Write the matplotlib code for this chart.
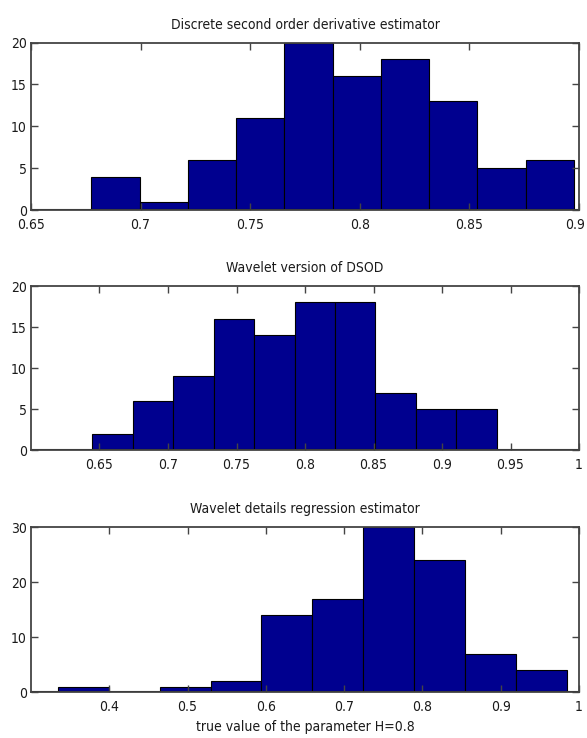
import numpy as np
import matplotlib
matplotlib.use("Agg")
import matplotlib.pyplot as plt
from matplotlib.transforms import ScaledTranslation

# narrow, MATLAB-like lettering
plt.rcParams['font.family'] = ['DejaVu Sans']
plt.rcParams['font.stretch'] = 'condensed'

# histogram counts (100 estimates each)
titles = ["Discrete second order derivative estimator",
          "Wavelet version of DSOD",
          "Wavelet details regression estimator"]

counts_dsod = [4, 1, 6, 11, 20, 16, 18, 13, 5, 6]
range_dsod = (0.6776, 0.8976)

counts_wdsod = [2, 6, 9, 16, 14, 18, 18, 7, 5, 5]
range_wdsod = (0.6448, 0.9399)

counts_wdr = [1, 0, 1, 2, 14, 17, 30, 24, 7, 4]
range_wdr = (0.334, 0.985)

xlims = [(0.65, 0.9), (0.6, 1.0), (0.3, 1.0)]
xticks = [[0.65, 0.7, 0.75, 0.8, 0.85, 0.9],
          [0.65, 0.7, 0.75, 0.8, 0.85, 0.9, 0.95, 1],
          [0.4, 0.5, 0.6, 0.7, 0.8, 0.9, 1]]
xticklabels = [["0.65", "0.7", "0.75", "0.8", "0.85", "0.9"],
               ["0.65", "0.7", "0.75", "0.8", "0.85", "0.9", "0.95", "1"],
               ["0.4", "0.5", "0.6", "0.7", "0.8", "0.9", "1"]]
ylims = [20, 20, 30]
yticks = [[0, 5, 10, 15, 20], [0, 5, 10, 15, 20], [0, 10, 20, 30]]

all_counts = [counts_dsod, counts_wdsod, counts_wdr]
all_ranges = [range_dsod, range_wdsod, range_wdr]

navy = (0, 0, 0.5625)
label_col = "#1a1a1a"

fig = plt.figure(figsize=(5.87, 7.38), dpi=100)
boxes = [[0.0528, 0.7154, 0.9336, 0.2270],
         [0.0528, 0.3902, 0.9336, 0.2222],
         [0.0528, 0.0623, 0.9336, 0.2236]]

for i in range(3):
    ax = fig.add_axes(boxes[i])
    edges = np.linspace(all_ranges[i][0], all_ranges[i][1], len(all_counts[i]) + 1)
    ax.bar(edges[:-1], all_counts[i], width=np.diff(edges), align='edge',
           color=navy, edgecolor='black', linewidth=0.8)
    ax.axhline(0, color='black', linewidth=1.5)
    ax.set_xlim(*xlims[i])
    ax.set_ylim(0, ylims[i])
    ax.set_xticks(xticks[i])
    ax.set_xticklabels(xticklabels[i])
    ax.set_yticks(yticks[i])
    ax.tick_params(direction='in', top=True, right=True, length=5, width=1,
                   color='#444444', labelsize=10, labelcolor=label_col)
    ax.tick_params(axis='x', pad=6)
    ax.tick_params(axis='y', pad=3)
    for s in ax.spines.values():
        s.set_color('#444444')
        s.set_linewidth(1.3)
    ax.set_title(titles[i], fontsize=10, color=label_col, pad=10)
    if i == 0:
        # keep the last label inside the canvas
        last = ax.get_xticklabels()[-1]
        last.set_transform(last.get_transform() + ScaledTranslation(-3 / 72, 0, fig.dpi_scale_trans))

ax.set_xlabel("true value of the parameter H=0.8", fontsize=10, color=label_col, labelpad=4)

fig.savefig("out.png", dpi=100)
